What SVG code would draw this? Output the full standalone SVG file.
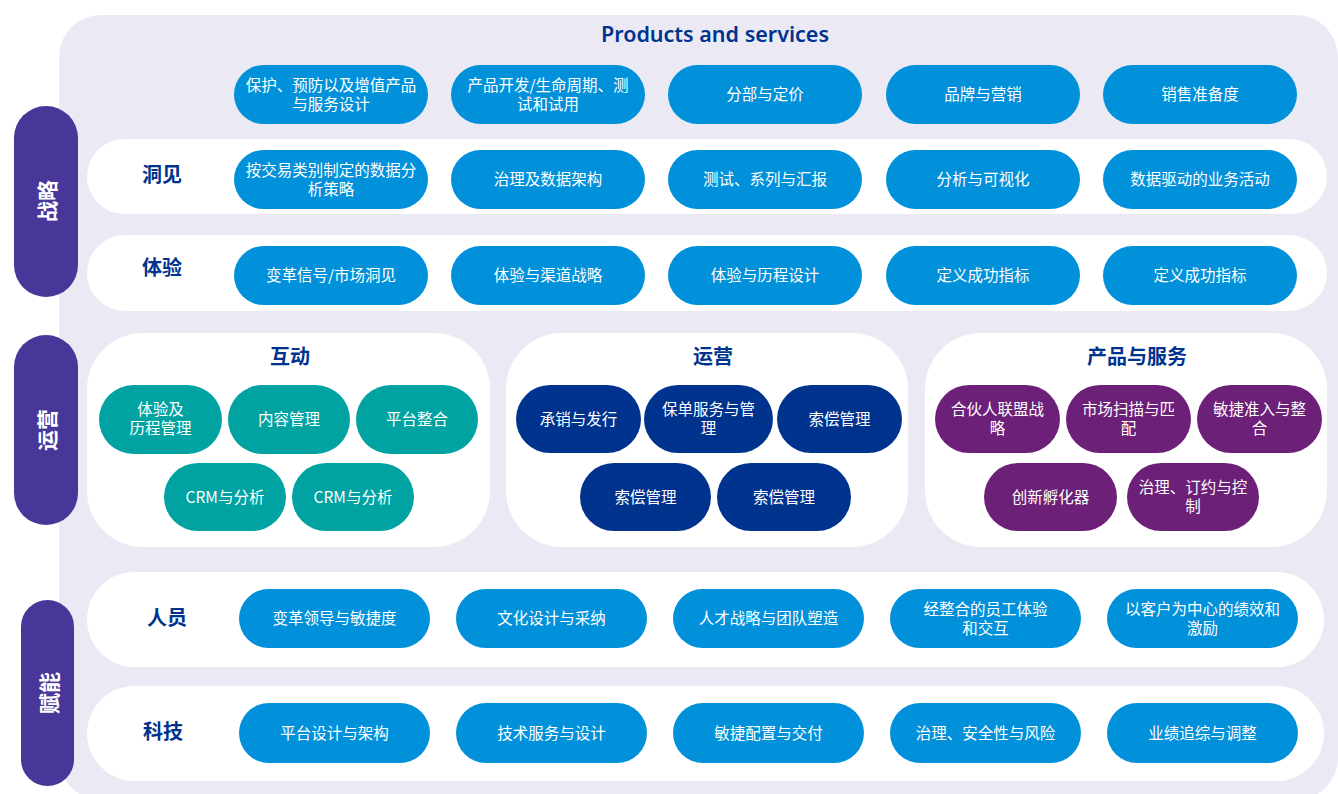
<svg xmlns="http://www.w3.org/2000/svg" width="1338" height="794" viewBox="0 0 1338 794">
<style>
.bg{fill:#EBEAF4}
.bar{fill:#FFFFFF}
.side{fill:#483698}
.blue{fill:#0091DA}
.navy{fill:#00338D}
.teal{fill:#00A3A1}
.purp{fill:#6D2077}
.t{font-family:"Noto Sans CJK SC","Noto Sans",sans-serif;font-size:15.5px;fill:#FFFFFF;text-anchor:middle;dominant-baseline:central}
.h{font-family:"Noto Sans CJK SC","Noto Sans",sans-serif;font-size:20px;font-weight:700;fill:#00338D;text-anchor:middle;dominant-baseline:central}
.v{font-family:"Noto Sans CJK SC","Noto Sans",sans-serif;font-size:21px;font-weight:700;fill:#FFFFFF;text-anchor:middle;dominant-baseline:central}
.ps{font-family:"Noto Sans","Open Sans",sans-serif;font-size:21px;font-weight:600;fill:#00338D;text-anchor:middle;dominant-baseline:central}
</style>
<rect x="0" y="0" width="1338" height="794" fill="#FFFFFF"/>
<rect class="bg" x="59" y="15" width="1279" height="785" rx="42"/>

<g id="title"><text class="ps" x="715" y="34" textLength="228" lengthAdjust="spacingAndGlyphs">Products and services</text></g>

<!-- side labels -->
<g id="side-strategy"><rect class="side" x="14" y="106" width="64" height="191" rx="32"/><text class="v" transform="translate(46,201) rotate(-90)">战略</text></g>
<g id="side-ops"><rect class="side" x="14" y="335" width="64" height="190" rx="32"/><text class="v" transform="translate(46,430) rotate(-90)">运营</text></g>
<g id="side-enable"><rect class="side" x="21" y="600" width="53" height="186" rx="26.5"/><text class="v" transform="translate(47.5,693) rotate(-90)">赋能</text></g>

<!-- white row bars -->
<g id="row-insight"><rect class="bar" x="87" y="139" width="1240" height="75" rx="37.5"/><text class="h" x="162" y="173.5">洞见</text></g>
<g id="row-experience"><rect class="bar" x="87" y="235" width="1240" height="76" rx="38"/><text class="h" x="162" y="266.5">体验</text></g>
<g id="row-people"><rect class="bar" x="87" y="572" width="1237" height="95" rx="47.5"/><text class="h" x="167" y="616.5">人员</text></g>
<g id="row-tech"><rect class="bar" x="87" y="686" width="1237" height="95" rx="47.5"/><text class="h" x="163" y="730.5">科技</text></g>

<!-- products and services row -->
<g id="p1"><rect class="blue" x="234" y="65" width="194" height="59" rx="29.5"/><text class="t"><tspan x="331" y="83.5">保护、预防以及增值产品</tspan><tspan x="331" y="102.5">与服务设计</tspan></text></g>
<g id="p2"><rect class="blue" x="451" y="65" width="194" height="59" rx="29.5"/><text class="t"><tspan x="548" y="83.5">产品开发/生命周期、测</tspan><tspan x="548" y="102.5">试和试用</tspan></text></g>
<g id="p3"><rect class="blue" x="668" y="65" width="194" height="59" rx="29.5"/><text class="t" x="765" y="93">分部与定价</text></g>
<g id="p4"><rect class="blue" x="886" y="65" width="194" height="59" rx="29.5"/><text class="t" x="983" y="93">品牌与营销</text></g>
<g id="p5"><rect class="blue" x="1103" y="65" width="194" height="59" rx="29.5"/><text class="t" x="1200" y="93">销售准备度</text></g>

<!-- insight row -->
<g id="i1"><rect class="blue" x="234" y="150" width="194" height="59" rx="29.5"/><text class="t"><tspan x="331" y="168.5">按交易类别制定的数据分</tspan><tspan x="331" y="187.5">析策略</tspan></text></g>
<g id="i2"><rect class="blue" x="451" y="150" width="194" height="59" rx="29.5"/><text class="t" x="548" y="178">治理及数据架构</text></g>
<g id="i3"><rect class="blue" x="668" y="150" width="194" height="59" rx="29.5"/><text class="t" x="765" y="178">测试、系列与汇报</text></g>
<g id="i4"><rect class="blue" x="886" y="150" width="194" height="59" rx="29.5"/><text class="t" x="983" y="178">分析与可视化</text></g>
<g id="i5"><rect class="blue" x="1103" y="150" width="194" height="59" rx="29.5"/><text class="t" x="1200" y="178">数据驱动的业务活动</text></g>

<!-- experience row -->
<g id="e1"><rect class="blue" x="234" y="246" width="194" height="59" rx="29.5"/><text class="t" x="331" y="274">变革信号/市场洞见</text></g>
<g id="e2"><rect class="blue" x="451" y="246" width="194" height="59" rx="29.5"/><text class="t" x="548" y="274">体验与渠道战略</text></g>
<g id="e3"><rect class="blue" x="668" y="246" width="194" height="59" rx="29.5"/><text class="t" x="765" y="274">体验与历程设计</text></g>
<g id="e4"><rect class="blue" x="886" y="246" width="194" height="59" rx="29.5"/><text class="t" x="983" y="274">定义成功指标</text></g>
<g id="e5"><rect class="blue" x="1103" y="246" width="194" height="59" rx="29.5"/><text class="t" x="1200" y="274">定义成功指标</text></g>

<!-- operations panels -->
<g id="panel-interaction"><rect class="bar" x="87" y="333" width="403" height="214" rx="56"/><text class="h" x="290" y="355.5">互动</text></g>
<g id="panel-operations"><rect class="bar" x="506" y="333" width="402" height="214" rx="56"/><text class="h" x="713" y="355.5">运营</text></g>
<g id="panel-products"><rect class="bar" x="925" y="333" width="402" height="214" rx="56"/><text class="h" x="1137" y="355.5">产品与服务</text></g>

<g id="m1"><rect class="teal" x="99" y="385" width="123" height="69" rx="34.5"/><text class="t"><tspan x="160.5" y="408">体验及</tspan><tspan x="160.5" y="427">历程管理</tspan></text></g>
<g id="m2"><rect class="teal" x="228" y="385" width="122" height="69" rx="34.5"/><text class="t" x="289" y="418">内容管理</text></g>
<g id="m3"><rect class="teal" x="356" y="385" width="122" height="69" rx="34.5"/><text class="t" x="417" y="418">平台整合</text></g>
<g id="m4"><rect class="teal" x="164" y="463" width="122" height="68" rx="34"/><text class="t" x="225" y="495.5">CRM与分析</text></g>
<g id="m5"><rect class="teal" x="292" y="463" width="122" height="68" rx="34"/><text class="t" x="353" y="495.5">CRM与分析</text></g>

<g id="o1"><rect class="navy" x="516" y="385" width="125" height="68" rx="34"/><text class="t" x="578.5" y="417.5">承销与发行</text></g>
<g id="o2"><rect class="navy" x="644" y="385" width="129" height="68" rx="34"/><text class="t"><tspan x="708.5" y="408">保单服务与管</tspan><tspan x="708.5" y="427">理</tspan></text></g>
<g id="o3"><rect class="navy" x="777" y="385" width="125" height="68" rx="34"/><text class="t" x="839.5" y="417.5">索偿管理</text></g>
<g id="o4"><rect class="navy" x="580" y="463" width="131" height="68" rx="34"/><text class="t" x="645.5" y="495.5">索偿管理</text></g>
<g id="o5"><rect class="navy" x="717" y="463" width="134" height="68" rx="34"/><text class="t" x="784" y="495.5">索偿管理</text></g>

<g id="s1"><rect class="purp" x="935" y="385" width="125" height="68" rx="34"/><text class="t"><tspan x="997.5" y="408">合伙人联盟战</tspan><tspan x="997.5" y="427">略</tspan></text></g>
<g id="s2"><rect class="purp" x="1066" y="385" width="125" height="68" rx="34"/><text class="t"><tspan x="1128.5" y="408">市场扫描与匹</tspan><tspan x="1128.5" y="427">配</tspan></text></g>
<g id="s3"><rect class="purp" x="1197" y="385" width="125" height="68" rx="34"/><text class="t"><tspan x="1259.5" y="408">敏捷准入与整</tspan><tspan x="1259.5" y="427">合</tspan></text></g>
<g id="s4"><rect class="purp" x="984" y="463" width="133" height="68" rx="34"/><text class="t" x="1050.5" y="495.5">创新孵化器</text></g>
<g id="s5"><rect class="purp" x="1127" y="463" width="132" height="68" rx="34"/><text class="t"><tspan x="1193" y="486">治理、订约与控</tspan><tspan x="1193" y="505">制</tspan></text></g>

<!-- people row -->
<g id="pp1"><rect class="blue" x="239" y="589" width="191" height="59" rx="29.5"/><text class="t" x="334.5" y="617">变革领导与敏捷度</text></g>
<g id="pp2"><rect class="blue" x="456" y="589" width="191" height="59" rx="29.5"/><text class="t" x="551.5" y="617">文化设计与采纳</text></g>
<g id="pp3"><rect class="blue" x="673" y="589" width="191" height="59" rx="29.5"/><text class="t" x="768.5" y="617">人才战略与团队塑造</text></g>
<g id="pp4"><rect class="blue" x="890" y="589" width="191" height="59" rx="29.5"/><text class="t"><tspan x="985.5" y="607.5">经整合的员工体验</tspan><tspan x="985.5" y="626.5">和交互</tspan></text></g>
<g id="pp5"><rect class="blue" x="1107" y="589" width="191" height="59" rx="29.5"/><text class="t"><tspan x="1202.5" y="607.5">以客户为中心的绩效和</tspan><tspan x="1202.5" y="626.5">激励</tspan></text></g>

<!-- tech row -->
<g id="tk1"><rect class="blue" x="239" y="703" width="191" height="60" rx="30"/><text class="t" x="334.5" y="731.5">平台设计与架构</text></g>
<g id="tk2"><rect class="blue" x="456" y="703" width="191" height="60" rx="30"/><text class="t" x="551.5" y="731.5">技术服务与设计</text></g>
<g id="tk3"><rect class="blue" x="673" y="703" width="191" height="60" rx="30"/><text class="t" x="768.5" y="731.5">敏捷配置与交付</text></g>
<g id="tk4"><rect class="blue" x="890" y="703" width="191" height="60" rx="30"/><text class="t" x="985.5" y="731.5">治理、安全性与风险</text></g>
<g id="tk5"><rect class="blue" x="1107" y="703" width="191" height="60" rx="30"/><text class="t" x="1202.5" y="731.5">业绩追综与调整</text></g>

<g id="connectors"></g>
</svg>
